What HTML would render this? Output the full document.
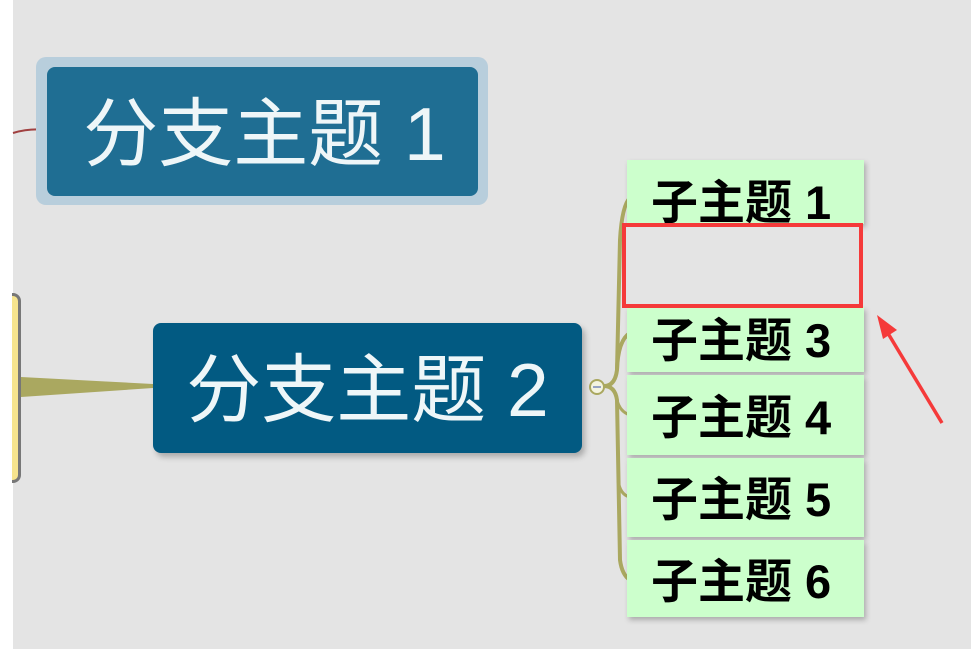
<!DOCTYPE html>
<html><head><meta charset="utf-8"><style>
html,body{margin:0;padding:0}
body{width:971px;height:649px;position:relative;overflow:hidden;background:#fff;font-family:"Liberation Sans","Noto Sans CJK SC",sans-serif}
.bg{position:absolute;left:13px;top:0;width:958px;height:649px;background:#e4e4e4}
.b{position:absolute;color:#eef6f8;font-size:75px;line-height:1;border-radius:8px;text-align:center;white-space:nowrap}
.s{position:absolute;left:627px;width:237px;background:#ccffcc;font-weight:bold;font-size:47px;color:#000;box-shadow:2px 3px 5px rgba(0,0,0,.25);box-sizing:border-box;padding-left:24px;line-height:1;white-space:nowrap}
</style></head><body>
<div class="bg"></div>
<svg width="971" height="649" style="position:absolute;left:0;top:0">
<path d="M13 133 Q30 128 47 130" stroke="#a04040" stroke-width="2" fill="none"/>
<path d="M21 377 L153 384 L153 388 L21 397 Z" fill="#aaa860"/>
<path d="M604 386 Q615 386 617 370 L620 240 Q622 205 630 198" stroke="#aaa860" stroke-width="4" fill="none"/>
<path d="M617 370 Q618 340 630 333" stroke="#aaa860" stroke-width="4" fill="none"/>
<path d="M604 386 Q615 386 617 400 L620 560 Q622 575 630 580" stroke="#aaa860" stroke-width="4" fill="none"/>
<path d="M617 400 Q620 412 630 415" stroke="#aaa860" stroke-width="3" fill="none"/>
<path d="M618 480 Q620 495 630 497" stroke="#aaa860" stroke-width="3" fill="none"/>
<circle cx="597" cy="387" r="7" fill="#f4f4e0" stroke="#aaa860" stroke-width="2"/>
<line x1="593" y1="387" x2="601" y2="387" stroke="#7788bb" stroke-width="1.5"/>
</svg>
<div style="position:absolute;left:12px;top:293px;width:6px;height:184px;background:#f6e48e;border:3px solid #777;border-left:none;border-radius:0 8px 8px 0"></div>
<div style="position:absolute;left:36px;top:57px;width:452px;height:148px;background:#b8cedc;border-radius:10px"></div>
<div class="b" style="left:47px;top:67px;width:431px;height:129px;background:#1f6e93;line-height:135px;padding-left:4px;box-sizing:border-box">分支主题 1</div>
<div class="b" style="left:153px;top:323px;width:429px;height:130px;background:#025a82;line-height:134px;box-shadow:3px 4px 6px rgba(0,0,0,.25)">分支主题 2</div>
<div class="s" style="top:160px;height:64px;padding-top:19px">子主题 1</div>
<div class="s" style="top:307px;height:65px;padding-top:10px">子主题 3</div>
<div class="s" style="top:375px;height:80px;padding-top:19px">子主题 4</div>
<div class="s" style="top:458px;height:79px;padding-top:18px">子主题 5</div>
<div class="s" style="top:540px;height:77px;padding-top:18px">子主题 6</div>
<div style="position:absolute;left:622px;top:223px;width:233px;height:77px;border:4px solid #f53a3a;background:#e4e4e4"></div>
<svg width="971" height="649" style="position:absolute;left:0;top:0">
<line x1="942" y1="423" x2="886" y2="330" stroke="#f53a3a" stroke-width="3.5"/>
<path d="M877 315 L897 330 L883 339 Z" fill="#f53a3a"/>
</svg>
</body></html>
